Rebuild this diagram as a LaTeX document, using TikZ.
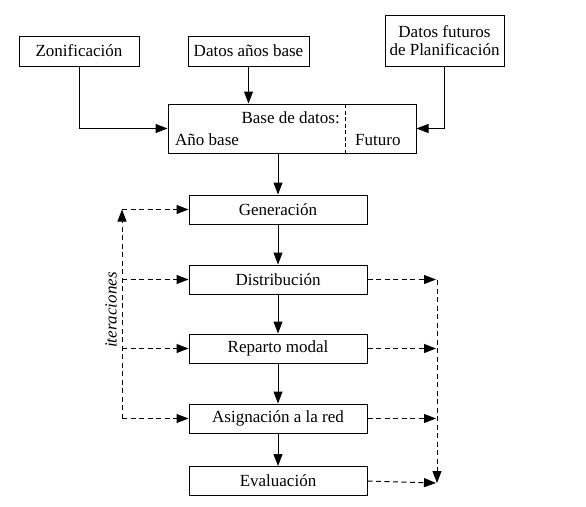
\documentclass[tikz,border=0pt]{standalone}
\usepackage{fontspec}
\setmainfont{Liberation Serif}
\usetikzlibrary{arrows.meta}
\tikzset{
  box/.style={draw, line width=1pt, rectangle, inner sep=0pt, align=center},
  arr/.style={line width=1pt, -{Triangle[length=12pt,width=9pt]}},
  darr/.style={arr, dash pattern=on 5pt off 3.5pt},
  txt/.style={inner sep=0pt, anchor=base}
}
\begin{document}
\begin{tikzpicture}[x=1pt,y=-1pt,font=\fontsize{17}{20}\selectfont]
\useasboundingbox (0,0) rectangle (586,506);
% top inputs
\node[box, minimum width=120pt, minimum height=30pt] (zon) at (79,51) {Zonificación};
\node[box, minimum width=121pt, minimum height=30pt] (dab) at (248.5,51) {Datos años base};
\node[box, minimum width=119pt, minimum height=51pt] (dfp) at (444.5,40.5) {Datos futuros\\[-2pt]de Planificación};
% database box
\node[box, minimum width=248pt, minimum height=49pt] (bd) at (292,128.5) {};
\draw[line width=1pt, dash pattern=on 4pt off 2.5pt] (345,104) coordinate (dtop) -- (345,153) coordinate (dbot);
\node[txt, anchor=base east] (bdt) at (340,123) {Base de datos:};
\node[txt, anchor=base west] (ab) at (175,145) {Año base};
\node[txt, anchor=base west] (fut) at (355,145) {Futuro};
% chain
\node[box, minimum width=178pt, minimum height=29pt] (gen) at (278,209.5) {Generación};
\node[box, minimum width=178pt, minimum height=29pt] (dis) at (278,279.5) {Distribución};
\node[box, minimum width=178pt, minimum height=29pt] (rep) at (278,348.5) {Reparto modal};
\node[box, minimum width=178pt, minimum height=29pt] (asi) at (278,418.5) {Asignación a la red};
\node[box, minimum width=178pt, minimum height=29pt] (eva) at (278,481) {Evaluación};
% input arrows
\draw[arr] (zon.south) |- (bd.west);
\draw[arr] (dab.south) -- (dab.south |- bd.north);
\draw[arr] (dfp.south) |- (bd.east);
% main chain arrows
\draw[arr] (bd.south -| gen.north) -- (gen.north);
\draw[arr] (gen) -- (dis);
\draw[arr] (dis) -- (rep);
\draw[arr] (rep) -- (asi);
\draw[arr] (asi) -- (eva);
% left iteration loop
\coordinate (lt) at (122,209.5);
\coordinate (lb) at (122,418.5);
\draw[darr] (lb) -- (lt);
\draw[darr] (lt) -- (gen.west);
\draw[darr] (lb |- dis.west) -- (dis.west);
\draw[darr] (lb |- rep.west) -- (rep.west);
\draw[darr] (lb) -- (asi.west);
\node[rotate=90, inner sep=0pt, font=\fontsize{17}{20}\selectfont\itshape] (it) at (111,310) {iteraciones};
% right collection
\coordinate (rt) at (437,280);
\coordinate (rb) at (437,483);
\draw[darr] (dis.east) -- (436,279.5) coordinate (r1);
\draw[darr] (rep.east) -- (436,348.5) coordinate (r2);
\draw[darr] (asi.east) -- (436,418.5) coordinate (r3);
\draw[darr] (eva.east) -- (436,483) coordinate (r4);
\draw[darr] (rt) -- (rb);
\end{tikzpicture}
\end{document}
